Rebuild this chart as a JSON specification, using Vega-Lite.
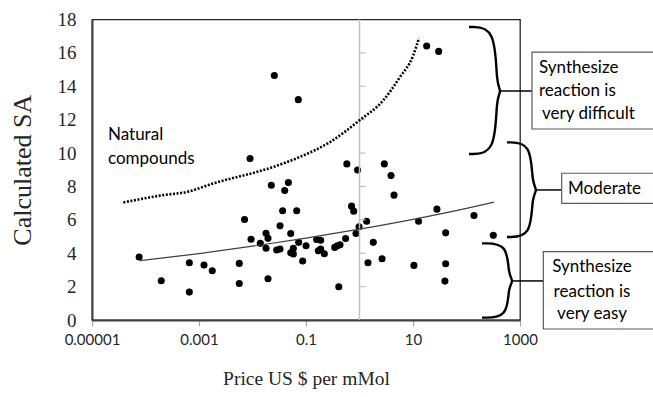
{
  "$schema": "https://vega.github.io/schema/vega-lite/v6.json",
  "autosize": {"type": "none"},
  "padding": {"left": 92, "top": 19.5, "right": 133, "bottom": 77},
  "width": 428,
  "height": 300.5,
  "background": "white",
  "config": {
    "view": {"stroke": "#262626", "strokeWidth": 1.3},
    "axis": {"grid": false}
  },
  "layer": [
    {
      "data": {"values": [
        {"x": 0.000076, "y": 3.77}, {"x": 0.000197, "y": 2.35}, {"x": 0.00066, "y": 3.43},
        {"x": 0.00066, "y": 1.67}, {"x": 0.00124, "y": 3.29}, {"x": 0.00177, "y": 2.95},
        {"x": 0.00566, "y": 3.39}, {"x": 0.00566, "y": 2.19}, {"x": 0.0071, "y": 6.02},
        {"x": 0.009, "y": 9.67}, {"x": 0.0094, "y": 4.84}, {"x": 0.014, "y": 4.59},
        {"x": 0.0179, "y": 5.2}, {"x": 0.0195, "y": 4.89}, {"x": 0.0179, "y": 4.3},
        {"x": 0.0195, "y": 2.47}, {"x": 0.0225, "y": 8.07}, {"x": 0.0256, "y": 14.65},
        {"x": 0.0283, "y": 4.19}, {"x": 0.0327, "y": 4.25}, {"x": 0.0327, "y": 5.64},
        {"x": 0.0366, "y": 6.54}, {"x": 0.04, "y": 7.76}, {"x": 0.0468, "y": 8.23},
        {"x": 0.0518, "y": 5.18}, {"x": 0.0518, "y": 4.03}, {"x": 0.058, "y": 4.29},
        {"x": 0.058, "y": 3.95}, {"x": 0.067, "y": 6.54}, {"x": 0.0718, "y": 13.2},
        {"x": 0.073, "y": 4.65}, {"x": 0.0866, "y": 3.53}, {"x": 0.1, "y": 4.45},
        {"x": 0.158, "y": 4.82}, {"x": 0.188, "y": 4.78}, {"x": 0.17, "y": 4.15},
        {"x": 0.188, "y": 4.25}, {"x": 0.22, "y": 3.97}, {"x": 0.344, "y": 4.35},
        {"x": 0.385, "y": 4.45}, {"x": 0.432, "y": 4.51}, {"x": 0.41, "y": 1.99},
        {"x": 0.55, "y": 4.88}, {"x": 0.58, "y": 9.35}, {"x": 0.71, "y": 6.82},
        {"x": 0.778, "y": 6.52}, {"x": 0.86, "y": 5.18}, {"x": 0.92, "y": 8.99},
        {"x": 0.98, "y": 5.58}, {"x": 1.36, "y": 5.92}, {"x": 1.44, "y": 3.43},
        {"x": 1.81, "y": 4.65}, {"x": 2.64, "y": 3.67}, {"x": 2.91, "y": 9.35},
        {"x": 3.88, "y": 8.65}, {"x": 4.42, "y": 7.48}, {"x": 10.4, "y": 3.27},
        {"x": 12.7, "y": 5.92}, {"x": 18, "y": 16.41}, {"x": 28, "y": 6.64},
        {"x": 30.2, "y": 16.09}, {"x": 40.8, "y": 5.22}, {"x": 40.8, "y": 3.37},
        {"x": 39.5, "y": 2.33}, {"x": 138, "y": 6.26}, {"x": 317, "y": 5.07}
      ]},
      "mark": {"type": "point", "filled": true, "color": "#000000", "opacity": 1, "size": 50},
      "encoding": {
        "x": {
          "field": "x", "type": "quantitative",
          "scale": {"type": "log", "domain": [0.00001, 1000], "nice": false},
          "axis": {
            "values": [0.00001, 0.001, 0.1, 10, 1000],
            "format": ".5~f",
            "title": "Price US $ per mMol",
            "titleFont": "Liberation Serif", "titleFontSize": 19.5, "titleFontWeight": "normal", "titleColor": "#262626",
            "titlePadding": 22,
            "labelFont": "Lato", "labelFontSize": 15, "labelColor": "#262626", "labelPadding": 6,
            "labelOverlap": false, "labelFlush": false,
            "tickColor": "#a6a6a6", "tickSize": 6, "tickWidth": 1.2,
            "domainColor": "#404040", "domainWidth": 2
          }
        },
        "y": {
          "field": "y", "type": "quantitative",
          "scale": {"domain": [0, 18], "nice": false},
          "axis": {
            "values": [0, 2, 4, 6, 8, 10, 12, 14, 16, 18],
            "tickCount": 10,
            "labelOverlap": false,
            "labelSeparation": 0,
            "title": "Calculated SA",
            "titleFont": "Liberation Serif", "titleFontSize": 26, "titleFontWeight": "normal", "titleColor": "#262626",
            "titlePadding": 22,
            "labelFont": "Liberation Serif", "labelFontSize": 19, "labelColor": "#262626", "labelPadding": 16,
            "ticks": false,
            "domainColor": "#404040", "domainWidth": 2
          }
        }
      }
    },
    {
      "data": {"values": [{"x": 1}]},
      "mark": {"type": "rule", "color": "#bfbfbf", "strokeWidth": 1.5},
      "encoding": {"x": {"field": "x", "type": "quantitative"}}
    },
    {
      "data": {"values": [{"y": 2}, {"y": 4}, {"y": 6}, {"y": 8}, {"y": 10}, {"y": 12}, {"y": 14}, {"y": 16}]},
      "mark": {"type": "rule", "color": "#bfbfbf", "strokeWidth": 1.2},
      "encoding": {
        "x": {"datum": 1, "type": "quantitative"},
        "x2": {"datum": 1.3},
        "y": {"field": "y", "type": "quantitative"}
      }
    },
    {
      "data": {"values": [
        {"x": 0.0000385, "y": 7.04}, {"x": 0.000215, "y": 7.48}, {"x": 0.00059, "y": 7.67},
        {"x": 0.00185, "y": 8.18}, {"x": 0.0245, "y": 9.17}, {"x": 0.0773, "y": 9.77},
        {"x": 0.281, "y": 10.66}, {"x": 1, "y": 11.96}, {"x": 2.79, "y": 13.16},
        {"x": 5.7, "y": 14.55}, {"x": 10.1, "y": 15.85}, {"x": 12.9, "y": 16.88}
      ]},
      "mark": {"type": "line", "color": "#000000", "strokeWidth": 2.6, "strokeDash": [2, 1.6], "interpolate": "monotone"},
      "encoding": {"x": {"field": "x", "type": "quantitative"}, "y": {"field": "y", "type": "quantitative"}}
    },
    {
      "data": {"values": [
        {"x": 0.000079, "y": 3.55}, {"x": 0.001, "y": 3.98}, {"x": 0.01, "y": 4.42},
        {"x": 0.1, "y": 4.9}, {"x": 1, "y": 5.44}, {"x": 10, "y": 6.03},
        {"x": 100, "y": 6.69}, {"x": 326, "y": 7.06}
      ]},
      "mark": {"type": "line", "color": "#404040", "strokeWidth": 1.2, "interpolate": "monotone"},
      "encoding": {"x": {"field": "x", "type": "quantitative"}, "y": {"field": "y", "type": "quantitative"}}
    },
    {
      "data": {"values": [
        {"g": "a", "i": 0, "x": 111.4, "y": 17.55}, {"g": "a", "i": 1, "x": 355.8, "y": 17.55},
        {"g": "a", "i": 2, "x": 355.8, "y": 14.08}, {"g": "a", "i": 3, "x": 461, "y": 13.72},
        {"g": "a", "i": 4, "x": 355.8, "y": 13.36}, {"g": "a", "i": 5, "x": 355.8, "y": 9.94},
        {"g": "a", "i": 6, "x": 111.4, "y": 9.94},
        {"g": "b", "i": 0, "x": 571.6, "y": 10.64}, {"g": "b", "i": 1, "x": 1655, "y": 10.64},
        {"g": "b", "i": 2, "x": 1655, "y": 8.15}, {"g": "b", "i": 3, "x": 2169, "y": 7.79},
        {"g": "b", "i": 4, "x": 1655, "y": 7.43}, {"g": "b", "i": 5, "x": 1655, "y": 4.97},
        {"g": "b", "i": 6, "x": 571.6, "y": 4.97},
        {"g": "c", "i": 0, "x": 195, "y": 4.59}, {"g": "c", "i": 1, "x": 597, "y": 4.59},
        {"g": "c", "i": 2, "x": 597, "y": 2.7}, {"g": "c", "i": 3, "x": 773, "y": 2.34},
        {"g": "c", "i": 4, "x": 597, "y": 1.98}, {"g": "c", "i": 5, "x": 597, "y": 0.14},
        {"g": "c", "i": 6, "x": 195, "y": 0.14}
      ]},
      "mark": {"type": "line", "color": "#000000", "strokeWidth": 2.4, "interpolate": "basis"},
      "encoding": {
        "x": {"field": "x", "type": "quantitative"},
        "y": {"field": "y", "type": "quantitative"},
        "detail": {"field": "g"},
        "order": {"field": "i"}
      }
    },
    {
      "data": {"values": [
        {"x": 422.7, "x2": 1675, "y": 13.72},
        {"x": 2000, "x2": 6017, "y": 7.79},
        {"x": 720, "x2": 2729, "y": 2.34}
      ]},
      "mark": {"type": "rule", "color": "#000000", "strokeWidth": 1.5},
      "encoding": {
        "x": {"field": "x", "type": "quantitative"},
        "x2": {"field": "x2"},
        "y": {"field": "y", "type": "quantitative"}
      }
    },
    {
      "data": {"values": [
        {"x": 1675, "x2": 414000, "y": 16.05, "y2": 11.44},
        {"x": 6017, "x2": 414000, "y": 8.79, "y2": 6.99},
        {"x": 2729, "x2": 414000, "y": 4.09, "y2": -0.54}
      ]},
      "mark": {"type": "rect", "fill": "white", "stroke": "#595959", "strokeWidth": 1.2},
      "encoding": {
        "x": {"field": "x", "type": "quantitative"},
        "x2": {"field": "x2"},
        "y": {"field": "y", "type": "quantitative"},
        "y2": {"field": "y2"}
      }
    },
    {
      "data": {"values": [
        {"x": 2265, "y": 15.1, "t": "Synthesize"},
        {"x": 2265, "y": 13.72, "t": "reaction is"},
        {"x": 2578, "y": 12.34, "t": "very difficult"},
        {"x": 7889, "y": 7.83, "t": "Moderate"},
        {"x": 0.0000199, "y": 11.08, "t": "Natural"},
        {"x": 0.0000199, "y": 9.64, "t": "compounds"}
      ]},
      "mark": {"type": "text", "font": "Lato", "fontSize": 17, "color": "#000000", "baseline": "middle", "align": "left"},
      "encoding": {
        "x": {"field": "x", "type": "quantitative"},
        "y": {"field": "y", "type": "quantitative"},
        "text": {"field": "t"}
      }
    },
    {
      "data": {"values": [
        {"x": 22180, "y": 3.16, "t": "Synthesize"},
        {"x": 22180, "y": 1.7, "t": "reaction is"},
        {"x": 22180, "y": 0.34, "t": "very easy"}
      ]},
      "mark": {"type": "text", "font": "Lato", "fontSize": 17, "color": "#000000", "baseline": "middle", "align": "center"},
      "encoding": {
        "x": {"field": "x", "type": "quantitative"},
        "y": {"field": "y", "type": "quantitative"},
        "text": {"field": "t"}
      }
    }
  ]
}
